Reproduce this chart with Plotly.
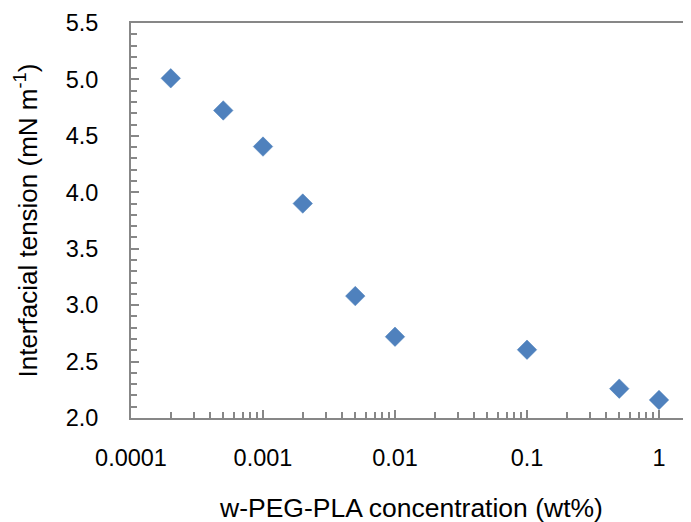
import plotly.graph_objects as go

conc = [0.0002, 0.0005, 0.001, 0.002, 0.005, 0.01, 0.1, 0.5, 1]
tension = [5.01, 4.725, 4.405, 3.90, 3.08, 2.72, 2.605, 2.26, 2.16]

x_tickvals = [0.0001, 0.001, 0.01, 0.1, 1]
x_ticktext = ["0.0001", "0.001", "0.01", "0.1", "1"]
y_tickvals = [2.0, 2.5, 3.0, 3.5, 4.0, 4.5, 5.0, 5.5]
y_ticktext = ["2.0", "2.5", "3.0", "3.5", "4.0", "4.5", "5.0", "5.5"]

x_minor = [m * d for d in [0.0001, 0.001, 0.01, 0.1, 1] for m in range(2, 10)]
y_minor = [round(2.0 + 0.1 * i, 1) for i in range(36)]

axis_color = "#878787"
font_family = "Arial, Liberation Sans, sans-serif"

fig = go.Figure()
fig.add_trace(go.Scatter(
    x=conc, y=tension, mode="markers",
    marker=dict(symbol="diamond", size=15, color="#4F81BD",
                line=dict(color="#4A7EBB", width=0.5)),
    showlegend=False,
))

fig.update_layout(
    width=683, height=514,
    margin=dict(l=123, r=0, t=15, b=104),
    plot_bgcolor="white", paper_bgcolor="white",
    font=dict(family=font_family, size=23.5, color="black"),
    xaxis=dict(
        type="log", range=[-4, 0.2424],
        tickmode="array", tickvals=x_tickvals, ticktext=x_ticktext,
        ticks="inside", ticklen=8, tickwidth=1.5, tickcolor=axis_color,
        minor=dict(tickmode="array", tickvals=x_minor, ticks="inside",
                   ticklen=6, tickwidth=1.5, tickcolor=axis_color, showgrid=False),
        showline=True, linecolor=axis_color, linewidth=2, mirror=True,
        showgrid=False, zeroline=False,
        ticklabelstandoff=18,
        tickfont=dict(size=23.5),
    ),
    yaxis=dict(
        range=[2.0, 5.5],
        tickmode="array", tickvals=y_tickvals, ticktext=y_ticktext,
        ticks="inside", ticklen=8, tickwidth=1.5, tickcolor=axis_color,
        minor=dict(tickmode="array", tickvals=y_minor, ticks="inside",
                   ticklen=6, tickwidth=1.5, tickcolor=axis_color, showgrid=False),
        showline=True, linecolor=axis_color, linewidth=2,
        showgrid=False, zeroline=False,
        ticklabelstandoff=26,
        tickfont=dict(size=23.5),
    ),
    annotations=[
        dict(text="w-PEG-PLA concentration (wt%)", xref="paper", yref="paper",
             x=0.5, y=0, xanchor="center", yanchor="middle", yshift=-90,
             showarrow=False, font=dict(size=26.5)),
        dict(text="Interfacial tension (mN m<sup>-1</sup>)", xref="paper", yref="paper",
             x=0, y=0.5, xanchor="center", yanchor="middle", xshift=-104,
             textangle=-90, showarrow=False, font=dict(size=26)),
    ],
)

fig.write_html("out.html")
